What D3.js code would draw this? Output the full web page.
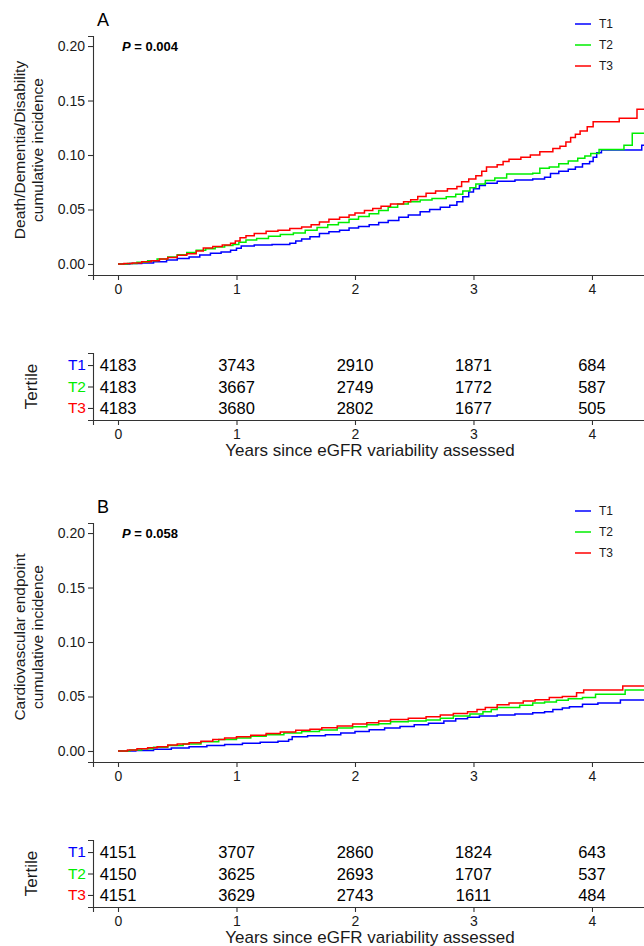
<!DOCTYPE html>
<html><head><meta charset="utf-8">
<script src="https://cdn.jsdelivr.net/npm/d3@7"></script>
<style>body{margin:0;background:#fff}svg{display:block;font-family:Arial,"Liberation Sans",sans-serif}</style>
</head><body>
<svg id="c" width="644" height="946"></svg>
<script>
// ---------- data ----------
const tertiles = ["T1","T2","T3"];
const colors = ["#0000ff","#00ee00","#ff0000"];
const yearTicks = [0,1,2,3,4];
const yTicks = [0,0.05,0.10,0.15,0.20];
const panelLabels = ["A","B"];
const pValues = ["0.004","0.058"];
const yTitlesA = ["Death/Dementia/Disability","cumulative incidence"];
const yTitlesB = ["Cardiovascular endpoint","cumulative incidence"];
const xTitle = "Years since eGFR variability assessed";
const riskTitle = "Tertile";

// Panel A curves [years, cumulative incidence]
const A_T1 = [[0,0],[0.1,0.0005],[0.2,0.001],[0.3,0.002],[0.41,0.0037],[0.5,0.005],[0.6,0.0065],[0.69,0.0083],[0.78,0.0098],[0.87,0.011],[0.95,0.0125],[1.0,0.0145],[1.04,0.0165],[1.15,0.0175],[1.3,0.018],[1.45,0.019],[1.5,0.021],[1.55,0.023],[1.62,0.025],[1.7,0.028],[1.78,0.0295],[1.87,0.031],[1.95,0.033],[2.03,0.0345],[2.12,0.036],[2.2,0.038],[2.28,0.040],[2.37,0.043],[2.45,0.045],[2.55,0.048],[2.63,0.050],[2.72,0.052],[2.8,0.054],[2.86,0.057],[2.91,0.0617],[2.96,0.066],[3.0,0.069],[3.05,0.072],[3.1,0.074],[3.2,0.076],[3.35,0.077],[3.5,0.078],[3.6,0.0795],[3.65,0.083],[3.72,0.085],[3.8,0.087],[3.86,0.089],[3.92,0.092],[3.98,0.094],[4.01,0.098],[4.04,0.102],[4.08,0.1046],[4.42,0.109],[4.6,0.109]];
const A_T2 = [[0,0],[0.08,0.0005],[0.16,0.0015],[0.25,0.003],[0.33,0.0045],[0.42,0.0065],[0.5,0.0085],[0.58,0.0105],[0.66,0.0125],[0.74,0.014],[0.82,0.0155],[0.9,0.017],[0.97,0.018],[1.02,0.020],[1.08,0.022],[1.17,0.0235],[1.27,0.0255],[1.37,0.027],[1.48,0.0285],[1.58,0.031],[1.68,0.0335],[1.77,0.036],[1.86,0.038],[1.95,0.041],[2.03,0.0435],[2.12,0.046],[2.2,0.049],[2.28,0.052],[2.36,0.055],[2.45,0.057],[2.55,0.0587],[2.65,0.060],[2.77,0.0618],[2.85,0.064],[2.91,0.067],[2.97,0.070],[3.02,0.0735],[3.1,0.0765],[3.18,0.079],[3.28,0.0826],[3.5,0.0832],[3.56,0.0878],[3.64,0.089],[3.72,0.092],[3.8,0.0945],[3.88,0.097],[3.94,0.099],[3.99,0.1015],[4.06,0.105],[4.27,0.109],[4.34,0.120],[4.6,0.120]];
const A_T3 = [[0,0],[0.05,0.0005],[0.12,0.001],[0.2,0.002],[0.28,0.003],[0.35,0.0045],[0.42,0.006],[0.5,0.008],[0.58,0.0095],[0.66,0.012],[0.72,0.0147],[0.8,0.016],[0.88,0.0175],[0.95,0.019],[0.99,0.021],[1.03,0.024],[1.08,0.026],[1.15,0.028],[1.25,0.030],[1.35,0.031],[1.45,0.0325],[1.55,0.034],[1.63,0.036],[1.7,0.0385],[1.78,0.041],[1.87,0.043],[1.95,0.045],[2.0,0.0467],[2.08,0.049],[2.15,0.051],[2.22,0.053],[2.3,0.055],[2.41,0.057],[2.47,0.059],[2.53,0.062],[2.6,0.065],[2.68,0.067],[2.78,0.069],[2.86,0.071],[2.9,0.0755],[2.96,0.078],[3.02,0.081],[3.07,0.085],[3.11,0.089],[3.2,0.091],[3.25,0.094],[3.3,0.096],[3.4,0.098],[3.48,0.100],[3.56,0.103],[3.67,0.106],[3.73,0.108],[3.78,0.112],[3.82,0.116],[3.86,0.119],[3.9,0.122],[3.96,0.126],[4.01,0.1306],[4.23,0.1337],[4.38,0.142],[4.6,0.142]];

// Panel B curves
const B_T1 = [[0,0],[0.15,0.0005],[0.3,0.0015],[0.45,0.0028],[0.6,0.004],[0.75,0.005],[0.9,0.006],[1.05,0.007],[1.2,0.008],[1.35,0.009],[1.44,0.0105],[1.47,0.013],[1.6,0.014],[1.75,0.015],[1.88,0.0165],[2.0,0.018],[2.12,0.0195],[2.25,0.021],[2.38,0.0225],[2.5,0.024],[2.62,0.0255],[2.75,0.0275],[2.85,0.0295],[2.95,0.031],[3.05,0.032],[3.2,0.033],[3.35,0.034],[3.5,0.035],[3.6,0.036],[3.67,0.038],[3.75,0.0395],[3.81,0.0406],[3.92,0.0428],[4.05,0.044],[4.24,0.0468],[4.6,0.0468]];
const B_T2 = [[0,0],[0.1,0.001],[0.2,0.002],[0.3,0.0035],[0.42,0.005],[0.55,0.0065],[0.7,0.0085],[0.85,0.0105],[1.0,0.012],[1.12,0.0135],[1.25,0.015],[1.4,0.0165],[1.55,0.018],[1.7,0.0193],[1.85,0.021],[1.98,0.0223],[2.1,0.024],[2.2,0.025],[2.3,0.0269],[2.45,0.0275],[2.6,0.0285],[2.72,0.030],[2.83,0.032],[2.97,0.034],[3.08,0.036],[3.15,0.038],[3.2,0.040],[3.39,0.042],[3.5,0.044],[3.6,0.045],[3.7,0.0465],[3.8,0.048],[3.92,0.049],[4.03,0.052],[4.28,0.056],[4.6,0.056]];
const B_T3 = [[0,0],[0.08,0.001],[0.16,0.002],[0.25,0.003],[0.33,0.004],[0.42,0.0055],[0.5,0.0065],[0.6,0.0075],[0.7,0.009],[0.8,0.0105],[0.9,0.012],[1.0,0.0131],[1.12,0.0145],[1.25,0.016],[1.37,0.0175],[1.5,0.019],[1.62,0.020],[1.72,0.0214],[1.85,0.023],[1.98,0.0248],[2.1,0.026],[2.2,0.0275],[2.3,0.029],[2.45,0.030],[2.6,0.0315],[2.72,0.033],[2.83,0.0345],[2.95,0.036],[3.03,0.038],[3.1,0.040],[3.2,0.0425],[3.3,0.044],[3.42,0.0458],[3.52,0.047],[3.64,0.049],[3.75,0.050],[3.87,0.0535],[3.93,0.056],[4.26,0.0596],[4.6,0.0596]];

// Numbers at risk
const riskA_T1 = [4183,3743,2910,1871,684];
const riskA_T2 = [4183,3667,2749,1772,587];
const riskA_T3 = [4183,3680,2802,1677,505];
const riskB_T1 = [4151,3707,2860,1824,643];
const riskB_T2 = [4150,3625,2693,1707,537];
const riskB_T3 = [4151,3629,2743,1611,484];

// ---------- drawing ----------
const svg = d3.select("#c");
const axisColor = "#333";
const textColor = "#1a1a1a";

const x = d3.scaleLinear().domain([-0.211, 4.456]).range([93, 646]);

svg.append("defs").append("clipPath").attr("id","clip")
  .append("rect").attr("x",93).attr("y",0).attr("width",560).attr("height",946);

function styleAxis(g){
  g.selectAll("path.domain").attr("stroke",axisColor).attr("stroke-width",1.1);
  g.selectAll(".tick line").attr("stroke",axisColor).attr("stroke-width",1.1);
  g.selectAll(".tick text").attr("fill",textColor).attr("font-family","Arial, 'Liberation Sans', sans-serif");
}

function drawPanel(off, label, pval, ytitles, curves, risks){
  const y = d3.scaleLinear().domain([-0.0101, 0.2092]).range([275+off, 36+off]);
  const g = svg.append("g");

  g.append("text").attr("x",97).attr("y",26+off).attr("font-size",18).attr("fill","#000").text(label);

  const ya = g.append("g").attr("transform","translate(93,0)")
    .call(d3.axisLeft(y).tickValues(yTicks).tickFormat(d3.format(".2f")).tickSizeOuter(0).tickSize(5).tickPadding(3));
  ya.selectAll(".tick text").attr("font-size",14);
  styleAxis(ya);

  const xa = g.append("g").attr("transform",`translate(0,${275+off})`)
    .call(d3.axisBottom(x).tickValues(yearTicks).tickFormat(d3.format("d")).tickSizeOuter(0).tickSize(5).tickPadding(4));
  xa.selectAll(".tick text").attr("font-size",14);
  styleAxis(xa);

  const yc = 150 + off;
  ytitles.forEach((t,i)=>{
    g.append("text").attr("transform",`translate(${21+i*18},${yc}) rotate(-90)`)
      .attr("text-anchor","middle").attr("dominant-baseline","middle")
      .attr("font-size",15.5).attr("fill",textColor).text(t);
  });

  const pt = g.append("text").attr("x",122).attr("y",51+off).attr("font-size",13).attr("font-weight","bold").attr("fill","#000");
  pt.append("tspan").attr("font-style","italic").text("P");
  pt.append("tspan").text(" = " + pval);

  const line = d3.line().x(d=>x(d[0])).y(d=>y(d[1])).curve(d3.curveStepAfter);
  curves.forEach((c,i)=>{
    g.append("path").attr("clip-path","url(#clip)").datum(c).attr("d",line)
      .attr("fill","none").attr("stroke",colors[i]).attr("stroke-width",1.5);
  });

  tertiles.forEach((t,i)=>{
    const ly = 24 + i*21 + off;
    g.append("line").attr("x1",575).attr("x2",591).attr("y1",ly).attr("y2",ly)
      .attr("stroke",colors[i]).attr("stroke-width",1.5);
    g.append("text").attr("x",599).attr("y",ly).attr("dominant-baseline","central")
      .attr("font-size",12).attr("fill",textColor).text(t);
  });

  const ry = d3.scalePoint().domain(tertiles).range([353+off, 420+off]).padding(0.56);
  const ra = g.append("g").attr("transform","translate(93,0)")
    .call(d3.axisLeft(ry).tickSizeOuter(0).tickSize(5).tickPadding(2));
  ra.selectAll(".tick text").attr("font-size",15.5);
  styleAxis(ra);
  ra.selectAll(".tick text").attr("fill",(d,i)=>colors[i]);

  const rxa = g.append("g").attr("transform",`translate(0,${420+off})`)
    .call(d3.axisBottom(x).tickValues(yearTicks).tickFormat(d3.format("d")).tickSizeOuter(0).tickSize(5).tickPadding(4));
  rxa.selectAll(".tick text").attr("font-size",14);
  styleAxis(rxa);

  risks.forEach((row,i)=>{
    row.forEach((v,j)=>{
      g.append("text").attr("x",x(yearTicks[j])).attr("y",ry(tertiles[i]))
        .attr("text-anchor","middle").attr("dominant-baseline","central")
        .attr("font-size",16.5).attr("fill","#000").text(v);
    });
  });

  g.append("text").attr("transform",`translate(33,${ry("T2")}) rotate(-90)`)
    .attr("text-anchor","middle").attr("dominant-baseline","middle")
    .attr("font-size",17).attr("fill",textColor).text(riskTitle);

  g.append("text").attr("x",370).attr("y",452+off).attr("text-anchor","middle")
    .attr("dominant-baseline","middle").attr("font-size",17).attr("fill",textColor).text(xTitle);
}

drawPanel(0, panelLabels[0], pValues[0], yTitlesA, [A_T1,A_T2,A_T3], [riskA_T1,riskA_T2,riskA_T3]);
drawPanel(487, panelLabels[1], pValues[1], yTitlesB, [B_T1,B_T2,B_T3], [riskB_T1,riskB_T2,riskB_T3]);
</script>
</body></html>
